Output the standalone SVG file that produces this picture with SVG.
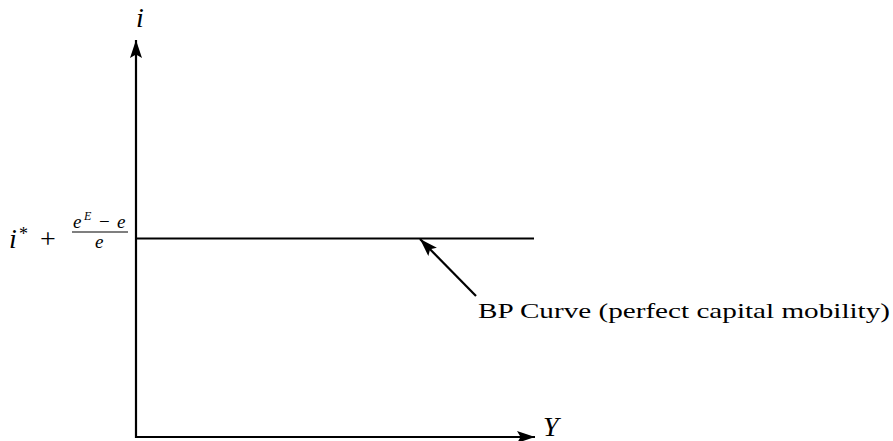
<svg xmlns="http://www.w3.org/2000/svg" width="893" height="441" viewBox="0 0 893 441">
<style>
.ax{stroke:#000;stroke-width:2.2;fill:none}
.t{font-family:"Liberation Serif","DejaVu Serif",serif;fill:#000}
.it{font-style:italic}
</style>
<defs>
<marker id="ah2" viewBox="0 0 10 10" refX="10" refY="5" markerWidth="18" markerHeight="12" markerUnits="userSpaceOnUse" orient="auto" preserveAspectRatio="none"><path d="M0,0 L10,5 L0,10 L2,5 Z" fill="#000"/></marker>
</defs>
<rect width="893" height="441" fill="#fff"/>
<g id="connectors">
<line class="ax" x1="136" y1="438" x2="136" y2="40" marker-end="url(#ah2)"/>
<line class="ax" x1="135" y1="437" x2="535" y2="437" marker-end="url(#ah2)"/>
<line id="bp-line" class="ax" x1="136" y1="238.5" x2="534" y2="238.5"/>
<line class="ax" x1="476" y1="296" x2="420" y2="239" marker-end="url(#ah2)"/>
</g>
<g id="label-i">
<text class="t it" x="136" y="27" font-size="28">i</text>
</g>
<g id="label-Y">
<text class="t it" x="543" y="436" font-size="28">Y</text>
</g>
<g id="label-istar">
<text class="t it" x="9" y="248" font-size="28">i</text>
<text class="t" x="19" y="240" font-size="18">*</text>
<text class="t" x="40" y="248" font-size="28">+</text>
<text class="t it" x="73" y="228" font-size="19">e</text>
<text class="t it" x="84" y="220" font-size="12">E</text>
<text class="t" x="99" y="228" font-size="19">−</text>
<text class="t it" x="117" y="228" font-size="19">e</text>
<line x1="72" y1="232" x2="128" y2="232" stroke="#000" stroke-width="1.2"/>
<text class="t it" x="95" y="248" font-size="19">e</text>
</g>
<g id="label-bp">
<text class="t" x="478" y="318" font-size="21" textLength="412" lengthAdjust="spacingAndGlyphs">BP Curve (perfect capital mobility)</text>
</g>
</svg>
